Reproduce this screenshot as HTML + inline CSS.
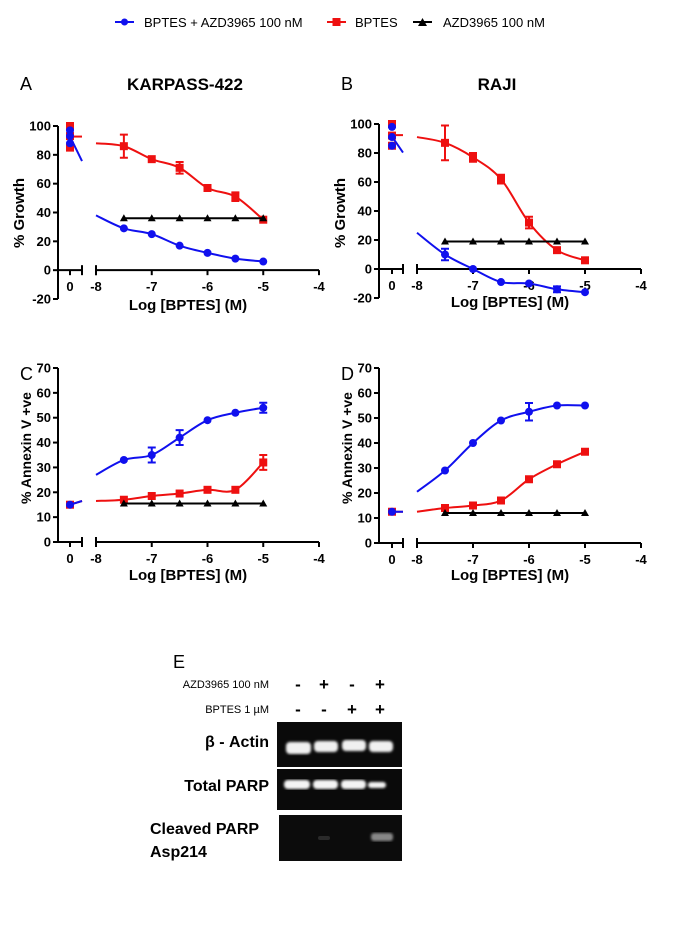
<!DOCTYPE html>
<html><head><meta charset="utf-8"><style>
body{margin:0;background:#fff;}
svg{display:block;font-family:"Liberation Sans",Arial,sans-serif;}
</style></head><body>
<svg id="fig" width="675" height="925" viewBox="0 0 675 925">
<g font-size="13">
  <g><line x1="115" y1="22" x2="134" y2="22" stroke="#1010ee" stroke-width="2"/><circle cx="124.5" cy="22" r="3.5" fill="#1010ee"/><text x="144" y="27">BPTES + AZD3965 100 nM</text></g>
  <g><line x1="327" y1="22" x2="346" y2="22" stroke="#ee1010" stroke-width="2"/><rect x="332.5" y="18" width="8" height="8" fill="#ee1010"/><text x="355" y="27">BPTES</text></g>
  <g><line x1="413" y1="22" x2="432" y2="22" stroke="#000" stroke-width="2"/><polygon points="422.5,18 427,26 418,26" fill="#000"/><text x="443" y="27">AZD3965 100 nM</text></g>
</g>
<g id="charts"></g>
<g>
  <text x="173" y="668" font-size="18">E</text>
  <text x="269" y="688" font-size="11" text-anchor="end">AZD3965 100 nM</text>
  <text x="269" y="713" font-size="11" text-anchor="end">BPTES 1 µM</text>
  <g font-size="17" font-weight="bold" text-anchor="middle">
    <text x="298" y="690">-</text><text x="324" y="690">+</text><text x="352" y="690">-</text><text x="380" y="690">+</text>
    <text x="298" y="715">-</text><text x="324" y="715">-</text><text x="352" y="715">+</text><text x="380" y="715">+</text>
  </g>
  <g font-size="16" font-weight="bold">
    <text x="269" y="747" text-anchor="end">β - Actin</text>
    <text x="269" y="791" text-anchor="end">Total PARP</text>
    <text x="150" y="834">Cleaved PARP</text>
    <text x="150" y="857">Asp214</text>
  </g>
  <defs>
    <filter id="blur1"><feGaussianBlur stdDeviation="1.2"/></filter>
  </defs>
  <g>
    <rect x="277" y="722" width="125" height="45" fill="#0a0a0a"/>
    <g fill="#f0f0f0" filter="url(#blur1)">
      <rect x="286" y="742" width="25" height="12" rx="4"/><rect x="314" y="741" width="24" height="11" rx="4"/><rect x="342" y="740" width="24" height="11" rx="4"/><rect x="369" y="741" width="24" height="11" rx="4"/>
    </g>
  </g>
  <g>
    <rect x="277" y="769" width="125" height="41" fill="#0a0a0a"/>
    <g fill="#f4f4f4" filter="url(#blur1)">
      <rect x="284" y="780" width="26" height="9" rx="4"/><rect x="313" y="780" width="25" height="9" rx="4"/><rect x="341" y="780" width="25" height="9" rx="4"/><rect x="368" y="782" width="18" height="6" rx="3"/>
    </g>
  </g>
  <g>
    <rect x="279" y="815" width="123" height="46" fill="#0c0c0c"/>
    <rect x="371" y="833" width="22" height="8" rx="3" fill="#888" filter="url(#blur1)"/>
    <rect x="318" y="836" width="12" height="4" rx="2" fill="#2a2a2a"/>
  </g>
</g>
</svg>
<script>
// ---------- data ----------
const doseLogs = [-7.5, -7, -6.5, -6, -5.5, -5];
const xTickLabels = [-8, -7, -6, -5, -4];
const growthTicks = [-20, 0, 20, 40, 60, 80, 100];
const annexinTicks = [0, 10, 20, 30, 40, 50, 60, 70];

const aRed = [86, 77, 71, 57, 51, 35];      const aRedErr = [8, 1, 4, 1, 3, 1];   const aRedStart = 88;
const aBlue = [29, 25, 17, 12, 8, 6];       const aBlueErr = [1, 1, 1, 1, 1, 1];  const aBlueStart = 38;
const aBlack = [36, 36, 36, 36, 36, 36];
const aRedZero = [100, 93, 85];             const aBlueZero = [97, 93, 88];

const bRed = [87, 77, 62, 32, 13, 6];       const bRedErr = [12, 3, 3, 4, 1, 1];  const bRedStart = 91;
const bBlue = [10, 0, -9, -10, -14, -16];   const bBlueErr = [4, 1, 1, 1, 2, 1];  const bBlueStart = 25;
const bBlack = [19, 19, 19, 19, 19, 19];
const bRedZero = [100, 92, 85];             const bBlueZero = [98, 91, 85];

const cBlue = [33, 35, 42, 49, 52, 54];     const cBlueErr = [1, 3, 3, 1, 1, 2];  const cBlueStart = 27;
const cRed = [17, 18.5, 19.5, 21, 21, 32];  const cRedErr = [1, 1, 1, 1, 1, 3];   const cRedStart = 16.5;
const cBlack = [15.5, 15.5, 15.5, 15.5, 15.5, 15.5];
const cRedZero = [15];                      const cBlueZero = [15];

const dBlue = [29, 40, 49, 52.5, 55, 55];   const dBlueErr = [1, 1, 1, 3.5, 1, 1]; const dBlueStart = 20.5;
const dRed = [14, 15, 17, 25.5, 31.5, 36.5]; const dRedErr = [1, 1, 1, 1, 1, 1];  const dRedStart = 12.5;
const dBlack = [12, 12, 12, 12, 12, 12];
const dRedZero = [12.5];                    const dBlueZero = [12.5];

// ---------- drawing ----------
const NS = "http://www.w3.org/2000/svg";
const root = document.getElementById('charts');
const BLUE = "#1010ee", RED = "#ee1010";
function mk(tag, parent, attrs) {
  const e = document.createElementNS(NS, tag);
  for (const k in attrs) e.setAttribute(k, attrs[k]);
  parent.appendChild(e);
  return e;
}
function spline(pts) {
  let d = "M" + pts[0][0] + "," + pts[0][1];
  for (let i = 0; i < pts.length - 1; i++) {
    const p0 = pts[i - 1] || pts[i], p1 = pts[i], p2 = pts[i + 1], p3 = pts[i + 2] || p2;
    const c1 = [p1[0] + (p2[0] - p0[0]) / 6, p1[1] + (p2[1] - p0[1]) / 6];
    const c2 = [p2[0] - (p3[0] - p1[0]) / 6, p2[1] - (p3[1] - p1[1]) / 6];
    d += " C" + c1 + " " + c2 + " " + p2;
  }
  return d;
}
function panel(cfg) {
  const g = mk('g', root, {});
  
  
  const ys = v => cfg.y0 + (v - cfg.ymin) / (cfg.ymax - cfg.ymin) * (cfg.y1 - cfg.y0);
  const xs = v => cfg.xm8 + (v + 8) * cfg.dec;
  const axY = ys(0);
  const L = mk('text', g, {x: cfg.ax - 38, y: cfg.letterY, 'font-size': 18});
  L.textContent = cfg.letter;
  
  
  if (cfg.title) {
    const T = mk('text', g, {x: cfg.titleX, y: cfg.letterY, 'font-size': 17, 'font-weight': 'bold', 'text-anchor': 'middle'});
    T.textContent = cfg.title;
    
    
  }
  const ya = mk('g', g, {stroke: '#000', 'stroke-width': 2});
  
  
  mk('line', ya, {x1: cfg.ax, y1: ys(cfg.ymax), x2: cfg.ax, y2: ys(cfg.ymin)});
  cfg.ticks.forEach(t => {
    mk('line', ya, {x1: cfg.ax - 5, y1: ys(t), x2: cfg.ax, y2: ys(t)});
    const tx = mk('text', g, {x: cfg.ax - 7, y: ys(t) + 4.5, 'font-size': 13, 'font-weight': 'bold', 'text-anchor': 'end'});
    tx.textContent = t;
    
    
  });
  const yt = mk('text', g, {x: 0, y: 0, 'font-size': cfg.ylabSize || 15, 'font-weight': 'bold', 'text-anchor': 'middle', transform: `translate(${cfg.ylabX},${cfg.ylabY}) rotate(-90)`});
  yt.textContent = cfg.ylabel;
  
  
  const xa = mk('g', g, {stroke: '#000', 'stroke-width': 2});
  
  
  mk('line', xa, {x1: cfg.ax, y1: axY, x2: cfg.brk, y2: axY});
  mk('line', xa, {x1: cfg.zx, y1: axY, x2: cfg.zx, y2: axY + 5});
  mk('line', xa, {x1: cfg.brk, y1: axY - 5, x2: cfg.brk, y2: axY + 5});
  mk('line', xa, {x1: xs(-8), y1: axY, x2: xs(-4), y2: axY});
  mk('line', xa, {x1: xs(-8), y1: axY - 5, x2: xs(-8), y2: axY + 5});
  const z = mk('text', g, {x: cfg.zx, y: axY + 21, 'font-size': 13, 'font-weight': 'bold', 'text-anchor': 'middle'});
  z.textContent = '0';
  
  
  xTickLabels.forEach(t => {
    mk('line', xa, {x1: xs(t), y1: axY, x2: xs(t), y2: axY + 5});
    const tx = mk('text', g, {x: xs(t), y: axY + 21, 'font-size': 13, 'font-weight': 'bold', 'text-anchor': 'middle'});
    tx.textContent = t;
    
    
  });
  const xt = mk('text', g, {x: cfg.xlabX, y: cfg.xlabY, 'font-size': 15, 'font-weight': 'bold', 'text-anchor': 'middle'});
  xt.textContent = 'Log [BPTES] (M)';
  
  
  cfg.series.forEach(s => {
    const sg = mk('g', g, {});
    
    
    if (s.start !== undefined) {
      const pts = [[xs(-8), ys(s.start)]].concat(doseLogs.map((x, i) => [xs(x), ys(s.vals[i])]));
      mk('path', sg, {d: spline(pts), fill: 'none', stroke: s.color, 'stroke-width': 2});
    } else {
      mk('line', sg, {x1: xs(doseLogs[0]), y1: ys(s.vals[0]), x2: xs(doseLogs[doseLogs.length - 1]), y2: ys(s.vals[s.vals.length - 1]), stroke: s.color, 'stroke-width': 2});
    }
    doseLogs.forEach((x, i) => {
      const px = xs(x), py = ys(s.vals[i]);
      if (s.err && s.err[i] > 1.5) {
        const e1 = ys(s.vals[i] + s.err[i]), e2 = ys(s.vals[i] - s.err[i]);
        mk('path', sg, {d: `M${px},${e1}V${e2}M${px-4},${e1}H${px+4}M${px-4},${e2}H${px+4}`, stroke: s.color, 'stroke-width': 2, fill: 'none'});
      }
      let m;
      if (s.shape === 'circle') m = mk('circle', sg, {cx: px, cy: py, r: 4, fill: s.color});
      else if (s.shape === 'square') m = mk('rect', sg, {x: px - 4, y: py - 4, width: 8, height: 8, fill: s.color});
      else m = mk('polygon', sg, {points: `${px},${py-4} ${px+4},${py+3} ${px-4},${py+3}`, fill: s.color});
      
      
    });
    if (s.zero) {
      s.zero.forEach(v => {
        let m;
        if (s.shape === 'circle') m = mk('circle', sg, {cx: cfg.zx, cy: ys(v), r: 4, fill: s.color});
        else m = mk('rect', sg, {x: cfg.zx - 4, y: ys(v) - 4, width: 8, height: 8, fill: s.color});
        
        
      });
      const mean = s.zero.reduce((a, b) => a + b, 0) / s.zero.length;
      mk('line', sg, {x1: cfg.zx, y1: ys(mean), x2: cfg.brk, y2: ys(mean + (s.zslope || 0)), stroke: s.color, 'stroke-width': 2});
    }
  });
}
panel({name: 'panel-a-karpas-growth', letter: 'A', title: 'KARPASS-422', titleX: 185, letterY: 90,
  ax: 58, zx: 70, brk: 82, xm8: 96, dec: 55.75, ymin: -20, ymax: 100, y0: 299, y1: 126, ticks: growthTicks,
  ylabel: '% Growth', ylabX: 24, ylabY: 213, xlabX: 188, xlabY: 310,
  series: [
    {name: 'bptes-series', color: RED, shape: 'square', vals: aRed, err: aRedErr, start: aRedStart, zero: aRedZero, zslope: 0},
    {name: 'combo-series', color: BLUE, shape: 'circle', vals: aBlue, err: aBlueErr, start: aBlueStart, zero: aBlueZero, zslope: -17},
    {name: 'azd-series', color: '#000', shape: 'tri', vals: aBlack}
  ]});
panel({name: 'panel-b-raji-growth', letter: 'B', title: 'RAJI', titleX: 497, letterY: 90,
  ax: 379, zx: 392, brk: 403, xm8: 417, dec: 56, ymin: -20, ymax: 100, y0: 298, y1: 124, ticks: growthTicks,
  ylabel: '% Growth', ylabX: 345, ylabY: 213, xlabX: 510, xlabY: 307,
  series: [
    {name: 'bptes-series', color: RED, shape: 'square', vals: bRed, err: bRedErr, start: bRedStart, zero: bRedZero, zslope: 0},
    {name: 'combo-series', color: BLUE, shape: 'circle', vals: bBlue, err: bBlueErr, start: bBlueStart, zero: bBlueZero, zslope: -11},
    {name: 'azd-series', color: '#000', shape: 'tri', vals: bBlack}
  ]});
panel({name: 'panel-c-karpas-annexin', letter: 'C', letterY: 380,
  ax: 58, zx: 70, brk: 82, xm8: 96, dec: 55.75, ymin: 0, ymax: 70, y0: 542, y1: 368, ticks: annexinTicks,
  ylabel: '% Annexin V +ve', ylabSize: 14, ylabX: 31, ylabY: 448, xlabX: 188, xlabY: 580,
  series: [
    {name: 'bptes-series', color: RED, shape: 'square', vals: cRed, err: cRedErr, start: cRedStart, zero: cRedZero, zslope: 1.5},
    {name: 'combo-series', color: BLUE, shape: 'circle', vals: cBlue, err: cBlueErr, start: cBlueStart, zero: cBlueZero, zslope: 1.5},
    {name: 'azd-series', color: '#000', shape: 'tri', vals: cBlack}
  ]});
panel({name: 'panel-d-raji-annexin', letter: 'D', letterY: 380,
  ax: 379, zx: 392, brk: 403, xm8: 417, dec: 56, ymin: 0, ymax: 70, y0: 543, y1: 368, ticks: annexinTicks,
  ylabel: '% Annexin V +ve', ylabSize: 14, ylabX: 352, ylabY: 448, xlabX: 510, xlabY: 580,
  series: [
    {name: 'bptes-series', color: RED, shape: 'square', vals: dRed, err: dRedErr, start: dRedStart, zero: dRedZero, zslope: 0},
    {name: 'combo-series', color: BLUE, shape: 'circle', vals: dBlue, err: dBlueErr, start: dBlueStart, zero: dBlueZero, zslope: 0},
    {name: 'azd-series', color: '#000', shape: 'tri', vals: dBlack}
  ]});
</script>
</body></html>
